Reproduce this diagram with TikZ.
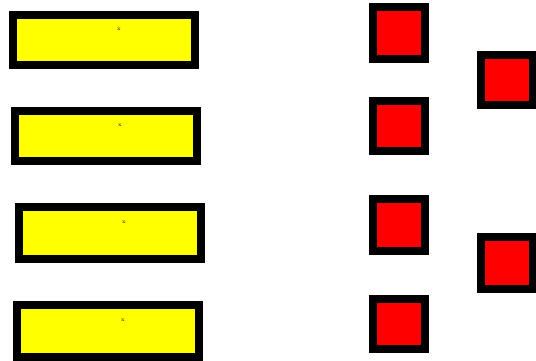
\documentclass[tikz,border=0pt]{standalone}
\usepackage{xcolor}
\usepackage{tikz}
\usetikzlibrary{positioning,calc}
\definecolor{Fill}{HTML}{FFFF00}
\definecolor{Cell}{HTML}{FF0000}
\tikzset{
  inbox/.style={
    draw=black, line width=8pt, fill=Fill, rectangle,
    minimum width=182pt, minimum height=50pt, inner sep=0pt, outer sep=0pt
  },
  cellbox/.style={inbox,fill=Cell,minimum width=52pt},
  tag/.style={font=\fontsize{5.5}{5.5}\selectfont,inner sep=0pt}
}
\begin{document}
\begin{tikzpicture}[x=1pt,y=-1pt]
  \useasboundingbox (0,0) rectangle (536,361);
  % left column
  \node[inbox] (in1) at (104,40) {};
  \node[inbox] (in2) at (106,136) {};
  \node[inbox,minimum height=52pt] (in3) at (110,233) {};
  \node[inbox,minimum height=52pt] (in4) at (108,331) {};
  \node[tag] (t1) at ([xshift=15pt,yshift=11pt]in1.center) {x};
  \node[tag] (t2) at ([xshift=14pt,yshift=11pt]in2.center) {x};
  \node[tag] (t3) at ([xshift=14pt,yshift=11pt]in3.center) {x};
  \node[tag] (t4) at ([xshift=15pt,yshift=11pt]in4.center) {x};
  % right columns
  \node[cellbox,minimum height=52pt] (c1) at (399,33) {};
  \node[cellbox] (c2) at (399,126) {};
  \node[cellbox,minimum height=52pt] (c3) at (399,225) {};
  \node[cellbox] (c4) at (399,324) {};
  \node[cellbox] (d1) at (507,80) {};
  \node[cellbox,minimum height=52pt] (d2) at (507,263) {};
\end{tikzpicture}
\end{document}
